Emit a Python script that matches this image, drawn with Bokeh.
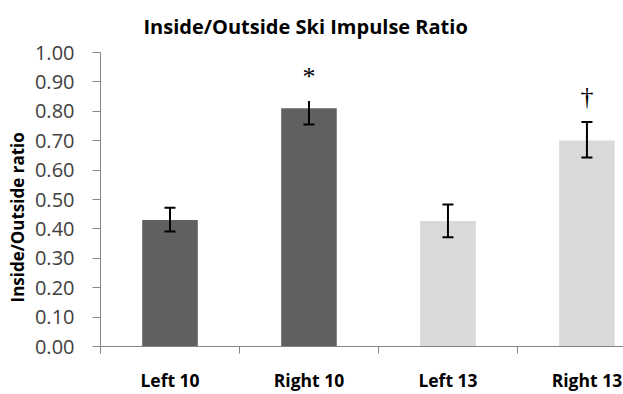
from bokeh.plotting import figure
from bokeh.models import (ColumnDataSource, Range1d, FixedTicker, Whisker, TeeHead, Title)
from bokeh.embed import file_html
from bokeh.resources import INLINE

categories = ["Left 10", "Right 10", "Left 13", "Right 13"]
ratio = [0.43, 0.81, 0.427, 0.701]
err_upper = [0.472, 0.835, 0.483, 0.764]
err_lower = [0.391, 0.755, 0.372, 0.643]
upper_cap = [True, False, True, True]
colors = ["#606060", "#606060", "#d9d9d9", "#d9d9d9"]
marks = ["", "*", "", "\u2020"]
y_ticks = [0.0, 0.1, 0.2, 0.3, 0.4, 0.5, 0.6, 0.7, 0.8, 0.9, 1.0]

xs = list(range(len(categories)))
src = ColumnDataSource(dict(x=xs, top=ratio, upper=err_upper, lower=err_lower,
                            color=colors, mark=marks))
cap_src = ColumnDataSource(dict(x=[x for x, c in zip(xs, upper_cap) if c],
                                upper=[u for u, c in zip(err_upper, upper_cap) if c]))

p = figure(width=623, height=394, output_backend="svg", toolbar_location=None,
           x_range=Range1d(-0.5, 3.263), y_range=Range1d(0, 1.0),
           min_border_left=100, min_border_right=0, min_border_top=52, min_border_bottom=44)
p.outline_line_color = None
p.xgrid.visible = False
p.ygrid.visible = False
p.background_fill_color = "white"
p.border_fill_color = "white"

p.vbar(x="x", top="top", width=0.4, bottom=0, source=src, fill_color="color",
       line_color=None)

# error bars
p.add_layout(Whisker(base="x", upper="upper", lower="lower", source=src,
                     line_color="black", line_width=2, level="annotation",
                     upper_head=None,
                     lower_head=TeeHead(size=11, line_width=2, line_color="black")))
p.add_layout(Whisker(base="x", upper="upper", lower="upper", source=cap_src,
                     line_color="black", line_width=2, level="annotation",
                     upper_head=TeeHead(size=11, line_width=2, line_color="black"),
                     lower_head=None))

# significance marks
p.text(x="x", y="upper", text="mark", source=src, text_align="center",
       text_baseline="middle", y_offset=-25, text_font_size="26px",
       text_font="DejaVu Sans", text_color="black")

# y axis
ya = p.yaxis[0]
ya.ticker = FixedTicker(ticks=y_ticks)
ya.major_label_overrides = {t: f"{t:.2f}" for t in y_ticks}
ya.major_label_text_font = "Open Sans"
ya.major_label_text_font_size = "20px"
ya.major_label_text_color = "#404040"
ya.major_label_standoff = 18
ya.major_tick_out = 8
ya.major_tick_in = 0
ya.minor_tick_out = 0
ya.minor_tick_in = 0
ya.axis_line_color = "#868686"
ya.major_tick_line_color = "#868686"

# x axis
xa = p.xaxis[0]
xa.ticker = FixedTicker(ticks=xs, minor_ticks=[-0.5, 0.5, 1.5, 2.5])
xa.major_label_overrides = {i: c for i, c in enumerate(categories)}
xa.major_label_text_font = "Open Sans"
xa.major_label_text_font_style = "bold"
xa.major_label_text_font_size = "17.5px"
xa.major_label_text_color = "black"
xa.major_label_standoff = 14
xa.major_tick_out = 0
xa.major_tick_in = 0
xa.minor_tick_out = 7
xa.minor_tick_in = 0
xa.axis_line_color = "#868686"
xa.minor_tick_line_color = "#868686"

# y axis title (as a side title so it can be placed off-centre like the original)
p.add_layout(Title(text="Inside/Outside ratio", align="left", offset=44,
                   text_font="Open Sans", text_font_style="bold",
                   text_font_size="17px", text_color="black", standoff=5), "left")

# chart title
p.add_layout(Title(text="Inside/Outside Ski Impulse Ratio", align="left", offset=43,
                   vertical_align="top",
                   text_font="Open Sans", text_font_style="bold", text_font_size="20px",
                   text_color="black", standoff=22), "above")

open("out.html", "w").write(file_html(p, INLINE))
